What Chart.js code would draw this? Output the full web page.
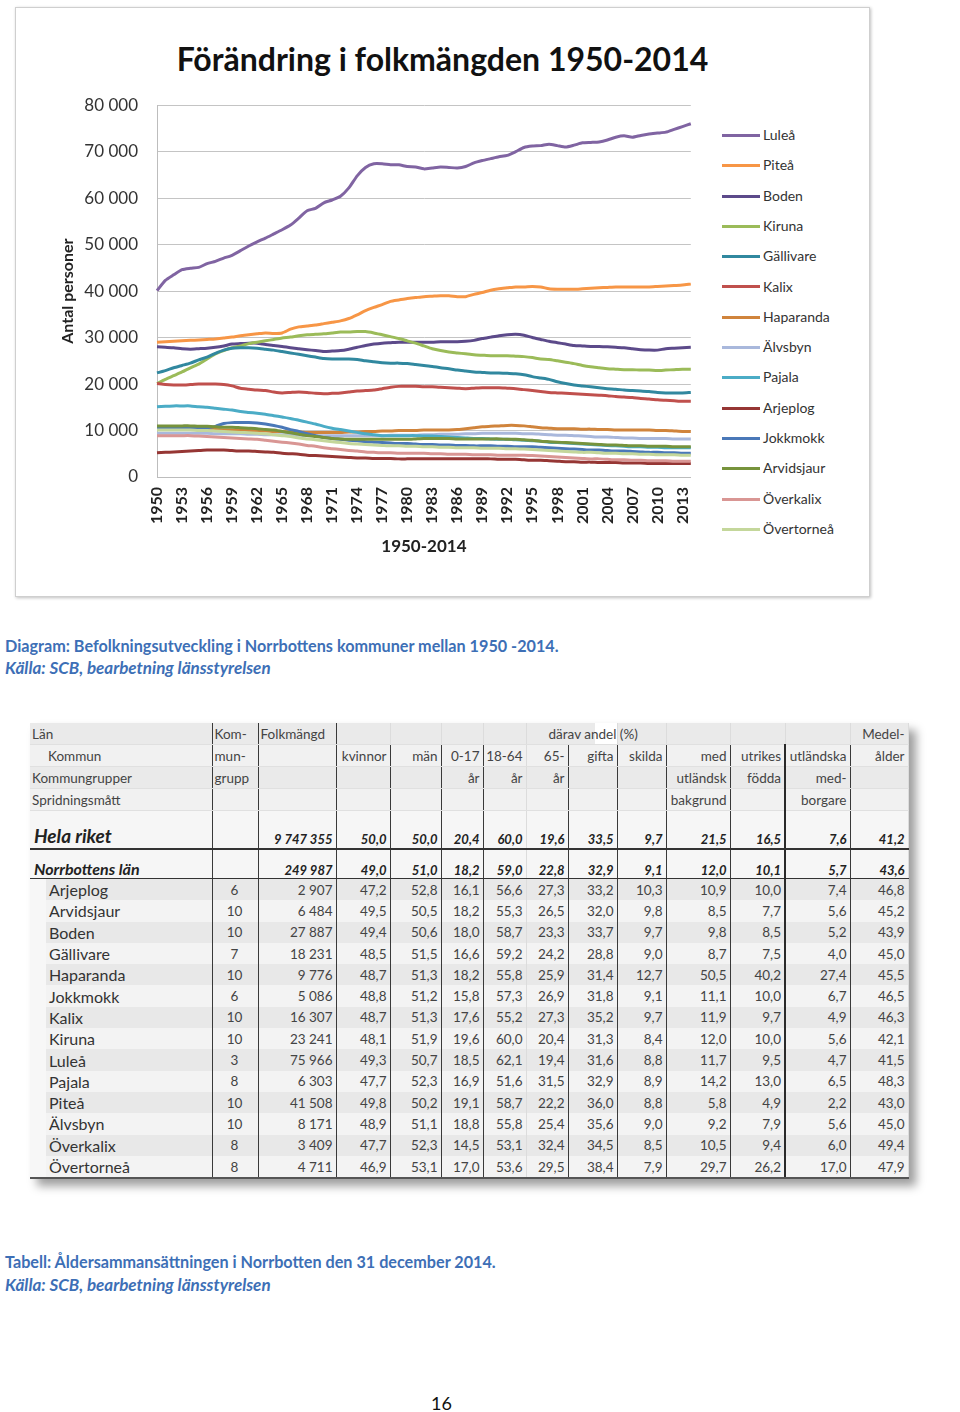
<!DOCTYPE html>
<html lang="sv">
<head>
<meta charset="utf-8">
<title>Förändring i folkmängden 1950-2014</title>
<script src="https://cdn.jsdelivr.net/npm/chart.js@4.4.1/dist/chart.umd.min.js"></script>
<style>
  body { margin: 0; width: 960px; height: 1412px; position: relative; background: #fff; font-family: Lato, "Open Sans", sans-serif; }
  #chartBox { position: absolute; left: 15px; top: 7px; width: 853px; height: 588px; border: 1px solid #cfcfcf; box-shadow: 1px 1px 3px rgba(0,0,0,0.25); background: #fff; }
  #chartTitle { position: absolute; left: 15px; top: 39px; width: 855px; text-align: center; font: bold 32px Lato, sans-serif; color: #111; }
  #popChart { position: absolute; left: 40px; top: 76px; }
  #legend { position: absolute; left: 722px; top: 0; margin: 0; padding: 0; list-style: none; }
  #legend li { position: absolute; left: 0; height: 20px; white-space: nowrap; font-size: 14px; color: #333; line-height: 20px; }
  #legend li span { display: inline-block; width: 38px; height: 3px; vertical-align: middle; margin-right: 3px; position: relative; top: -1px; }
  .cap { position: absolute; left: 5px; font-size: 16.2px; font-weight: bold; color: #3d6fb6; white-space: nowrap; }
  .cap i { font-style: italic; font-size: 17px; }
  #tbl { position: absolute; left: 30px; top: 723px; border-collapse: collapse; table-layout: fixed; width: 878px; box-shadow: 7px 7px 9px rgba(0,0,0,0.38); font-size: 13.5px; color: #444; }
  #tbl td { padding: 0 3px 0 2px; white-space: nowrap; overflow: visible; text-align: right; border-right: 1px solid #dcdcdc; }
  #tbl tr.h td { height: 21px; background: #f1f1f1; border-bottom: 1px solid #e0e0e0; }
  #tbl tr.h:nth-child(2) td, #tbl tr.h:nth-child(4) td { background: #eaeaea; }
  #tbl tr.h td.l { text-align: left; }
  #tbl td.dk { border-right: 1px solid #3a3a3a; }
  #tbl td.dk2 { border-right: 2px solid #2a2a2a; }
  #tbl tr.sum td { font-weight: bold; font-style: italic; color: #222; vertical-align: bottom; font-size: 13px; background: #f6f6f6; }
  #tbl tr.riket td { height: 36px; padding-bottom: 1px; border-top: 1px solid #333; border-bottom: 2px solid #333; }
  #tbl tr.lan td { height: 28px; border-bottom: 1px solid #333; }
  #tbl tr.sum td.name { text-align: left; padding-left: 4px; }
  #tbl tr.riket td.name { font-size: 19px; }
  #tbl tr.lan td.name { font-size: 16px; }
  #tbl tr.d td { height: 21.3px; background: #e8e8e8; color: #444; }
  #tbl tr.d.alt td { background: #f3f3f3; }
  #tbl tr.d td.name { text-align: left; padding-left: 19px; font-size: 16px; color: #333; background-image: linear-gradient(to right, #f7f7f7 16px, transparent 16px); }
  #tbl tr.d td.grp { text-align: center; }
  #tbl tr.last td { border-bottom: 2px solid #555; }
  #pageNo { position: absolute; left: 0; width: 883px; top: 1392px; text-align: center; font-size: 18px; color: #111; }
</style>
</head>
<body>
<div id="chartBox"></div>
<div id="chartTitle">Förändring i folkmängden 1950-2014</div>
<canvas id="popChart" width="680" height="489"></canvas>
<ul id="legend"></ul>

<div class="cap" style="top:636px">Diagram: Befolkningsutveckling i Norrbottens kommuner mellan 1950 -2014.</div>
<div class="cap" style="top:657px"><i>Källa: SCB, bearbetning länsstyrelsen</i></div>

<table id="tbl"></table>

<div class="cap" style="top:1252px">Tabell: Åldersammansättningen i Norrbotten den 31 december 2014.</div>
<div class="cap" style="top:1274px"><i>Källa: SCB, bearbetning länsstyrelsen</i></div>

<div id="pageNo">16</div>

<script>
const years = ["1950","1951","1952","1953","1954","1955","1956","1957","1958","1959",
  "1960","1961","1962","1963","1964","1965","1966","1967","1968","1969",
  "1970","1971","1972","1973","1974","1975","1976","1977","1978","1979",
  "1980","1981","1982","1983","1984","1985","1986","1987","1988","1989",
  "1990","1991","1992","1993","1994","1995","1996","1997","1998","1999",
  "2000","2001","2002","2003","2004","2005","2006","2007","2008","2009",
  "2010","2011","2012","2013","2014"];

const kommuner = ["Luleå", "Piteå", "Boden", "Kiruna", "Gällivare", "Kalix", "Haparanda",
  "Älvsbyn", "Pajala", "Arjeplog", "Jokkmokk", "Arvidsjaur", "Överkalix", "Övertorneå"];

const colors = ["#8064a2", "#f79646", "#5c4a8a", "#9bbb59", "#31889f", "#c0504d", "#d0843c",
  "#a9b8dc", "#4bacc6", "#963634", "#4a78b8", "#77933c", "#d99694", "#c4d79b"];

const lulea = [40100,42300,43500,44600,44900,45100,45900,46400,47100,47700,
  48700,49700,50600,51400,52300,53200,54200,55700,57300,57800,
  59000,59600,60400,62200,64800,66600,67400,67400,67200,67200,
  66800,66700,66300,66500,66700,66600,66500,66800,67600,68100,
  68500,68900,69200,70000,70900,71200,71300,71600,71300,71000,
  71400,71900,72000,72100,72500,73100,73400,73100,73500,73800,
  74000,74200,74800,75400,76000];

const pitea = [29000,29100,29200,29300,29400,29500,29600,29700,29900,30100,
  30400,30600,30800,31000,30900,31000,31800,32300,32500,32700,
  33000,33300,33600,34100,34900,35800,36500,37100,37800,38100,
  38400,38600,38800,38900,39000,39000,38800,38800,39300,39700,
  40200,40500,40700,40900,40900,41000,40900,40500,40400,40400,
  40400,40500,40600,40700,40800,40900,40900,40900,40900,40900,
  41000,41100,41200,41300,41500];

const boden = [28000,27900,27800,27600,27500,27600,27700,27900,28200,28600,
  28700,28800,28800,28500,28300,28100,27800,27600,27400,27200,
  27000,27100,27200,27500,27900,28300,28600,28800,28900,29000,
  29000,29000,29000,29000,29100,29100,29100,29200,29400,29800,
  30100,30400,30600,30700,30500,30000,29600,29200,28900,28600,
  28300,28200,28100,28100,28000,27900,27800,27600,27400,27300,
  27300,27600,27700,27800,27900];

const kiruna = [20100,21000,21800,22600,23500,24300,25400,26500,27200,27800,
  28200,28700,29000,29300,29600,29900,30100,30400,30600,30700,
  30800,31000,31200,31200,31300,31300,31000,30600,30200,29800,
  29300,28800,28200,27600,27200,26900,26700,26500,26300,26200,
  26100,26100,26100,26000,25900,25700,25400,25300,25000,24700,
  24400,24000,23700,23500,23300,23200,23100,23100,23000,23000,
  22900,23000,23100,23200,23200];

const gallivare = [22400,22900,23500,24000,24500,25200,25800,26600,27300,27700,
  27800,27800,27700,27500,27300,27000,26700,26400,26100,25800,
  25500,25400,25400,25400,25300,25000,24800,24600,24500,24500,
  24400,24200,24000,23800,23500,23300,23000,22800,22600,22500,
  22400,22400,22300,22200,22000,21600,21300,21000,20500,20100,
  19800,19600,19400,19200,19000,18900,18700,18600,18500,18400,
  18200,18100,18100,18100,18200];

const kalix = [20100,19900,19800,19800,19900,20000,20000,20000,19900,19600,
  19100,18900,18700,18600,18300,18100,18200,18300,18200,18000,
  17900,18000,18100,18300,18500,18600,18700,19000,19300,19500,
  19500,19500,19400,19400,19300,19200,19100,19000,19100,19200,
  19200,19200,19100,19000,18800,18600,18400,18200,18100,18000,
  17900,17800,17700,17600,17500,17300,17200,17100,16900,16800,
  16600,16500,16400,16300,16300];

const haparanda = [10300,10300,10300,10300,10300,10300,10200,10200,10100,10100,
  10000,10000,9900,9900,9800,9800,9700,9700,9600,9600,
  9600,9600,9600,9700,9700,9800,9800,9900,9900,10000,
  10000,10000,10100,10100,10100,10100,10200,10400,10600,10800,
  10900,11000,11100,11100,11000,10800,10600,10500,10400,10400,
  10400,10300,10300,10200,10200,10100,10100,10100,10100,10100,
  10000,10000,9900,9800,9800];

const alvsbyn = [9400,9400,9400,9400,9400,9400,9400,9300,9300,9300,
  9300,9200,9200,9100,9100,9100,9000,9000,8900,8900,
  8900,8900,8900,8900,8900,8900,8900,8900,9000,9000,
  9000,9000,9100,9100,9200,9200,9200,9300,9300,9400,
  9400,9400,9400,9400,9300,9300,9200,9100,9000,9000,
  8900,8800,8700,8600,8600,8500,8400,8400,8300,8300,
  8300,8300,8200,8200,8200];

const pajala = [15100,15200,15300,15300,15300,15100,15000,14800,14600,14400,
  14100,13900,13700,13500,13200,12900,12600,12200,11800,11400,
  10900,10500,10200,9900,9600,9300,9100,8900,8900,8900,
  8900,8900,8800,8800,8700,8600,8500,8400,8300,8300,
  8200,8100,8100,8000,7900,7800,7700,7500,7400,7300,
  7200,7100,7000,6900,6800,6700,6600,6500,6500,6400,
  6400,6300,6300,6300,6300];

const arjeplog = [5200,5300,5400,5500,5600,5700,5800,5800,5800,5700,
  5600,5600,5500,5400,5300,5100,5000,4900,4700,4600,
  4500,4400,4300,4200,4100,4100,4000,4000,4000,3900,
  3900,3900,3900,3900,3900,3900,3900,3900,3900,3900,
  3900,3800,3800,3800,3700,3600,3600,3500,3400,3300,
  3300,3200,3200,3100,3100,3100,3000,3000,3000,2900,
  2900,2900,2900,2900,2900];

const jokkmokk = [10500,10500,10500,10500,10500,10500,10600,10900,11500,11700,
  11700,11700,11600,11400,11100,10700,10200,9800,9300,8900,
  8500,8300,8100,7900,7800,7600,7500,7400,7300,7200,
  7200,7100,7000,7000,6900,6900,6800,6800,6700,6700,
  6700,6600,6600,6500,6500,6500,6400,6300,6200,6100,
  6000,5900,5800,5800,5700,5600,5600,5500,5400,5300,
  5300,5200,5200,5100,5100];

const arvidsjaur = [11000,11000,11000,11000,11000,10900,10900,10800,10700,10700,
  10600,10500,10400,10200,10100,9800,9500,9200,8900,8700,
  8500,8300,8200,8100,8100,8100,8100,8100,8100,8100,
  8100,8200,8300,8300,8300,8300,8200,8200,8200,8200,
  8200,8200,8100,8100,8000,7900,7700,7600,7500,7400,
  7300,7200,7100,7000,6900,6900,6800,6700,6700,6600,
  6600,6600,6500,6500,6500];

const overkalix = [8900,8900,8900,8900,8900,8800,8700,8600,8500,8400,
  8300,8200,8100,7900,7700,7500,7300,7100,6800,6600,
  6300,6100,5900,5700,5600,5400,5300,5200,5200,5100,
  5100,5100,5100,5000,5000,4900,4900,4900,4800,4800,
  4800,4700,4700,4700,4700,4600,4500,4400,4300,4200,
  4100,4000,3900,3900,3800,3700,3700,3600,3600,3500,
  3500,3500,3400,3400,3400];

const overtornea = [10100,10100,10100,10100,10100,10000,10000,9900,9800,9700,
  9600,9500,9400,9300,9100,8900,8700,8400,8200,8000,
  7800,7600,7400,7200,7100,7000,6900,6800,6700,6700,
  6600,6600,6500,6500,6400,6400,6300,6300,6300,6200,
  6200,6200,6100,6100,6000,5900,5800,5700,5600,5500,
  5400,5300,5300,5200,5100,5100,5000,5000,4900,4900,
  4800,4800,4800,4700,4700];

const series = [lulea, pitea, boden, kiruna, gallivare, kalix, haparanda,
  alvsbyn, pajala, arjeplog, jokkmokk, arvidsjaur, overkalix, overtornea];

const yTicks = ["0", "10 000", "20 000", "30 000", "40 000", "50 000", "60 000", "70 000", "80 000"];

// tabell
const tableHead = [
  ["Län", "Kom-", "Folkmängd", "", "", "", "", "", "", "", "", "", "", "Medel-"],
  ["Kommun", "mun-", "", "kvinnor", "män", "0-17", "18-64", "65-", "gifta", "skilda", "med", "utrikes", "utländska", "ålder"],
  ["Kommungrupper", "grupp", "", "", "", "år", "år", "år", "", "", "utländsk", "födda", "med-", ""],
  ["Spridningsmått", "", "", "", "", "", "", "", "", "", "bakgrund", "", "borgare", ""]
];
const rikeRow = ["Hela riket", "", "9 747 355", "50,0", "50,0", "20,4", "60,0", "19,6", "33,5", "9,7", "21,5", "16,5", "7,6", "41,2"];
const lanRow = ["Norrbottens län", "", "249 987", "49,0", "51,0", "18,2", "59,0", "22,8", "32,9", "9,1", "12,0", "10,1", "5,7", "43,6"];
const kommunRows = [
  ["Arjeplog", "6", "2 907", "47,2", "52,8", "16,1", "56,6", "27,3", "33,2", "10,3", "10,9", "10,0", "7,4", "46,8"],
  ["Arvidsjaur", "10", "6 484", "49,5", "50,5", "18,2", "55,3", "26,5", "32,0", "9,8", "8,5", "7,7", "5,6", "45,2"],
  ["Boden", "10", "27 887", "49,4", "50,6", "18,0", "58,7", "23,3", "33,7", "9,7", "9,8", "8,5", "5,2", "43,9"],
  ["Gällivare", "7", "18 231", "48,5", "51,5", "16,6", "59,2", "24,2", "28,8", "9,0", "8,7", "7,5", "4,0", "45,0"],
  ["Haparanda", "10", "9 776", "48,7", "51,3", "18,2", "55,8", "25,9", "31,4", "12,7", "50,5", "40,2", "27,4", "45,5"],
  ["Jokkmokk", "6", "5 086", "48,8", "51,2", "15,8", "57,3", "26,9", "31,8", "9,1", "11,1", "10,0", "6,7", "46,5"],
  ["Kalix", "10", "16 307", "48,7", "51,3", "17,6", "55,2", "27,3", "35,2", "9,7", "11,9", "9,7", "4,9", "46,3"],
  ["Kiruna", "10", "23 241", "48,1", "51,9", "19,6", "60,0", "20,4", "31,3", "8,4", "12,0", "10,0", "5,6", "42,1"],
  ["Luleå", "3", "75 966", "49,3", "50,7", "18,5", "62,1", "19,4", "31,6", "8,8", "11,7", "9,5", "4,7", "41,5"],
  ["Pajala", "8", "6 303", "47,7", "52,3", "16,9", "51,6", "31,5", "32,9", "8,9", "14,2", "13,0", "6,5", "48,3"],
  ["Piteå", "10", "41 508", "49,8", "50,2", "19,1", "58,7", "22,2", "36,0", "8,8", "5,8", "4,9", "2,2", "43,0"],
  ["Älvsbyn", "10", "8 171", "48,9", "51,1", "18,8", "55,8", "25,4", "35,6", "9,0", "9,2", "7,9", "5,6", "45,0"],
  ["Överkalix", "8", "3 409", "47,7", "52,3", "14,5", "53,1", "32,4", "34,5", "8,5", "10,5", "9,4", "6,0", "49,4"],
  ["Övertorneå", "8", "4 711", "46,9", "53,1", "17,0", "53,6", "29,5", "38,4", "7,9", "29,7", "26,2", "17,0", "47,9"]
];

const colWidths = [182, 46, 78, 54, 51, 42, 43, 42, 49, 49, 64, 55, 65, 58];
const darkCols = [0, 1, 2, 3, 4, 5, 7, 8, 9, 10, 12];

// legend
const legend = document.getElementById("legend");
kommuner.forEach((name, i) => {
  const li = document.createElement("li");
  li.style.top = (125 + i * 30.3) + "px";
  li.innerHTML = `<span style="background:${colors[i]}"></span>${name}`;
  legend.appendChild(li);
});

// table
const tbl = document.getElementById("tbl");
const cg = document.createElement("colgroup");
colWidths.forEach(w => { const c = document.createElement("col"); c.style.width = w + "px"; cg.appendChild(c); });
tbl.appendChild(cg);

function addRow(cells, cls, isHead) {
  const tr = document.createElement("tr");
  tr.className = cls;
  cells.forEach((txt, j) => {
    const td = document.createElement("td");
    td.textContent = txt;
    let c = [];
    if (j === 0) c.push("name", "l");
    if (j === 1) c.push("grp", "l");
    if (j === 2 && isHead) c.push("l");
    if (j === 11) c.push("dk2");
    else if (darkCols.includes(j)) c.push("dk");
    td.className = c.join(" ");
    tr.appendChild(td);
  });
  tbl.appendChild(tr);
  return tr;
}

tableHead.forEach((r, i) => {
  const tr = addRow(r, "h", true);
  if (i === 0) {
    // "därav andel (%)" over the share columns
    [...tr.children].forEach((td, j) => { if (j > 2 && j < 13) td.className = ""; });
    const mid = tr.children[8];
    mid.textContent = "därav andel (%)";
    mid.style.textAlign = "center";
    mid.style.position = "relative";
    mid.style.left = "-22px";
  }
  if (i === 1) tr.children[0].style.paddingLeft = "18px";
});
addRow(rikeRow, "sum riket", false);
addRow(lanRow, "sum lan", false);
kommunRows.forEach((r, i) => {
  const tr = addRow(r, "d" + (i % 2 ? " alt" : "") + (i === kommunRows.length - 1 ? " last" : ""), false);
  tr.children[1].className = "grp dk";
});

// chart
const datasets = kommuner.map((name, i) => ({
  label: name,
  data: series[i],
  borderColor: colors[i],
  backgroundColor: colors[i],
  borderWidth: 3,
  pointRadius: 0,
  tension: 0.2,
  order: -i
}));

new Chart(document.getElementById("popChart").getContext("2d"), {
  type: "line",
  data: { labels: years, datasets },
  options: {
    responsive: false,
    animation: false,
    layout: { padding: { top: 10, right: 10, left: 0, bottom: 0 } },
    plugins: { legend: { display: false }, title: { display: false }, tooltip: { enabled: false } },
    scales: {
      x: {
        offset: false,
        grid: { display: false, drawTicks: false },
        border: { display: true, color: "#bdbdbd" },
        ticks: {
          autoSkip: false, minRotation: 90, maxRotation: 90, padding: 10,
          color: "#222", font: { family: "Lato", size: 16, weight: "bold" },
          callback: (v, i) => (i % 3 === 0 ? years[i] : "")
        },
        title: { display: true, text: "1950-2014", color: "#222", font: { family: "Lato", size: 17, weight: "bold" }, padding: { top: 0, bottom: 8 } },
        afterFit: s => { s.height = 88; }
      },
      y: {
        min: 0, max: 80000,
        grid: { color: "#c4c4c4", drawTicks: false },
        border: { display: true, color: "#bdbdbd" },
        ticks: {
          stepSize: 10000, padding: 19, color: "#333",
          font: { family: "Lato", size: 17 },
          callback: v => yTicks[v / 10000]
        },
        title: { display: true, text: "Antal personer", color: "#222", font: { family: "Lato", size: 16, weight: "bold" }, padding: { top: 18, bottom: 0 } },
        afterFit: s => { s.width = 117; }
      }
    }
  }
});
</script>
</body>
</html>
